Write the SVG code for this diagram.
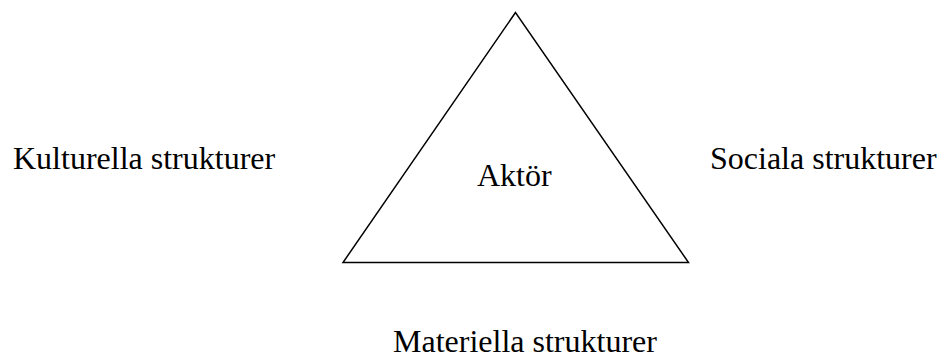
<svg xmlns="http://www.w3.org/2000/svg" width="938" height="356" viewBox="0 0 938 356">
<style>
text{font-family:"Liberation Serif","Times New Roman",serif;font-size:32px;fill:#000}
.edge{fill:none;stroke:#000;stroke-width:1.5}
</style>
<rect width="938" height="356" fill="#fff"/>
<g id="connectors">
<polygon class="edge" points="515.5,12.5 343,262.5 688.5,262.5"/>
</g>
<g id="actor"><text x="477" y="186">Aktör</text></g>
<g id="cultural"><text x="13" y="169">Kulturella strukturer</text></g>
<g id="social"><text x="710" y="169">Sociala strukturer</text></g>
<g id="material"><text x="393" y="352">Materiella strukturer</text></g>
</svg>
